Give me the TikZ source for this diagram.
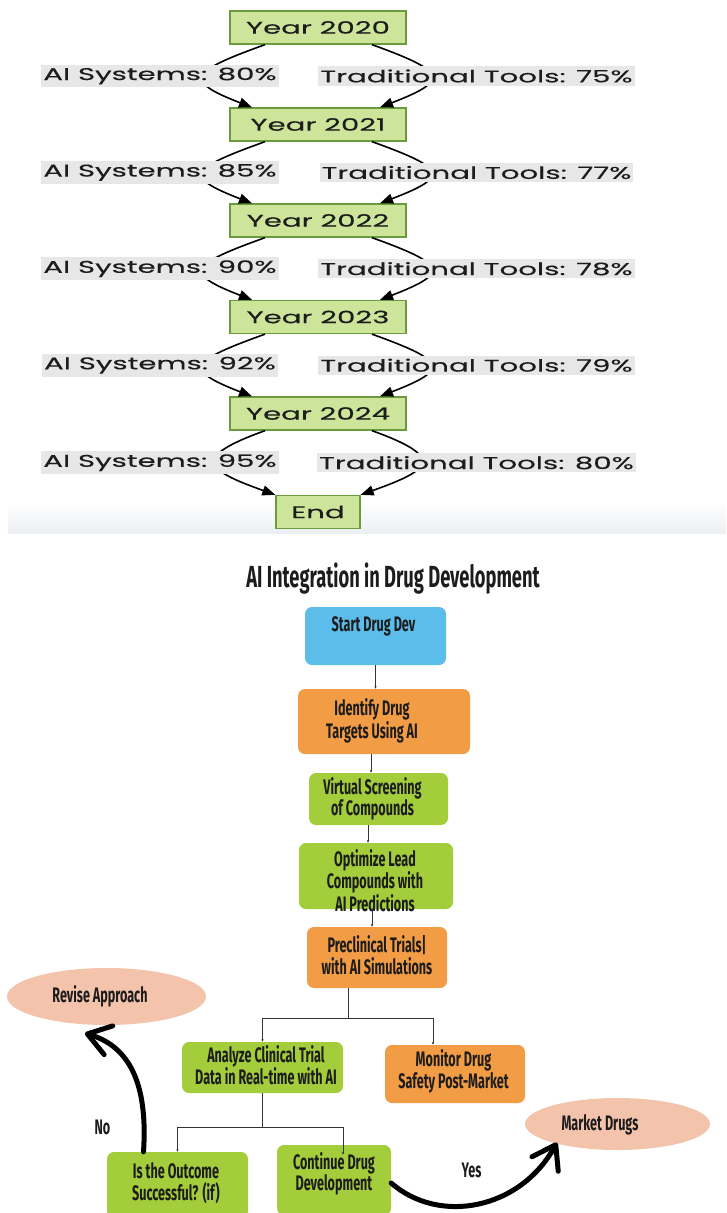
\documentclass[tikz,border=0pt]{standalone}
\usepackage{fontspec}
\setmainfont{Poppins}
\newfontfamily\yearfont{Poppins}[FakeStretch=1.72,FakeBold=0.3]
\newfontfamily\condfont{Fira Sans}[FakeStretch=0.6]
\usetikzlibrary{arrows.meta,shapes.geometric,calc}

\definecolor{yearfill}{HTML}{CDE59B}
\definecolor{yeardraw}{HTML}{6B9B3C}
\definecolor{lblgray}{HTML}{E7E7E7}
\definecolor{bandgray}{HTML}{ECEFF3}
\definecolor{startblue}{HTML}{5CBDEA}
\definecolor{stepgreen}{HTML}{A3CD3B}
\definecolor{steporange}{HTML}{F39C46}
\definecolor{ovalpink}{HTML}{F4C3AB}
\definecolor{inkdark}{HTML}{1C1C1C}

\begin{document}
\begin{tikzpicture}[x=1pt, y=-1pt,
  year/.style={draw=yeardraw, line width=1.3pt, fill=yearfill, minimum width=176pt, minimum height=33pt,
    inner sep=0pt, text=inkdark, font=\yearfont\fontsize{17}{20}\selectfont},
  lbl/.style={fill=lblgray, inner xsep=2pt, inner ysep=3pt, text=inkdark, font=\yearfont\fontsize{17}{20}\selectfont},
  edge/.style={line width=1.6pt, -{Triangle[length=13pt,width=10pt]}},
  stepbox/.style={rounded corners=7pt, inner sep=0pt},
  oval/.style={ellipse, fill=ovalpink, inner sep=0pt},
  txt/.style={align=center, inner sep=0pt, text=inkdark, font=\condfont\bfseries\fontsize{21}{21.5}\selectfont},
  note/.style={inner sep=0pt, text=inkdark, font=\condfont\bfseries\fontsize{21}{21.5}\selectfont},
  link/.style={draw=black!80, line width=0.9pt, -{Latex[length=2.5pt,width=2.5pt]}},
  bigarrow/.style={line width=5pt, line cap=round, -{Straight Barb[length=22pt,width=30pt,round]}}]
  \useasboundingbox (0,0) rectangle (726,1213);

  % yearly comparison
  \node[year] (y20) at (318,27.5) {Year 2020};
  \node[year] (y21) at (318,124.5) {Year 2021};
  \node[year] (y22) at (318,220.5) {Year 2022};
  \node[year] (y23) at (318,317) {Year 2023};
  \node[year] (y24) at (318,413.5) {Year 2024};
  \shade[top color=white, bottom color=bandgray] (8,502) rectangle (726,533);
  \node[year, minimum width=84pt] (end) at (318,512) {End};

  \foreach \a/\b/\ai/\tr [count=\i] in {y20/y21/80/75, y21/y22/85/77, y22/y23/90/78, y23/y24/92/79}{
    \draw[edge] ([xshift=-53pt]\a.south) .. controls +(-75,27) and +(-70,-27) .. ([xshift=-66pt]\b.north);
    \draw[edge] ([xshift=54pt]\a.south) .. controls +(75,27) and +(70,-27) .. ([xshift=62pt]\b.north);
    \coordinate (mid\i) at ($(\a.south)!0.5!(\b.north)$);
    \node[lbl] (ai\i) at ([xshift=-158pt]mid\i) {AI Systems: \ai\%};
    \node[lbl] (tr\i) at ([xshift=158.5pt]mid\i) {Traditional Tools: \tr\%};
  }
  \draw[edge] ([xshift=-53pt]y24.south) .. controls +(-75,27) and +(-70,-25) .. (end.north west);
  \draw[edge] ([xshift=54pt]y24.south) .. controls +(75,27) and +(70,-25) .. (end.north east);
  \coordinate (mid5) at ($(y24.south)!0.5!(end.north)$);
  \node[lbl] (ai5) at ([xshift=-158pt]mid5) {AI Systems: 95\%};
  \node[lbl] (tr5) at ([xshift=158.5pt]mid5) {Traditional Tools: 80\%};

  % drug development flow
  \node[txt, font=\condfont\bfseries\fontsize{30.5}{32}\selectfont] (title) at (393,579) {AI Integration in Drug Development};
  \node[stepbox, fill=startblue, minimum width=141pt, minimum height=58pt,
    label={[txt, xshift=-2pt, yshift=10pt]center:Start Drug Dev}] (start) at (375.5,636) {};
  \node[stepbox, fill=steporange, minimum width=172pt, minimum height=65pt,
    label={[txt, xshift=-12pt, yshift=1pt]center:Identify Drug\\Targets Using AI}] (ident) at (384,721.5) {};
  \node[stepbox, fill=stepgreen, minimum width=139pt, minimum height=52pt,
    label={[txt, xshift=-6pt]center:Virtual Screening\\of Compounds}] (virtual) at (378.5,799) {};
  \node[stepbox, fill=stepgreen, minimum width=154pt, minimum height=66pt,
    label={[txt, xshift=-1pt, yshift=-4.5pt]center:Optimize Lead\\Compounds with\\AI Predictions}] (optimize) at (376,876) {};
  \node[stepbox, fill=steporange, minimum width=140pt, minimum height=61pt,
    label={[txt, yshift=2.5pt]center:Preclinical Trials|\\with AI Simulations}] (pre) at (377,957.5) {};
  \node[stepbox, fill=stepgreen, minimum width=161pt, minimum height=51pt,
    label={[txt, xshift=3.5pt, yshift=2.5pt]center:Analyze Clinical Trial\\Data in Real-time with AI}] (analyze) at (262.5,1067.5) {};
  \node[stepbox, fill=steporange, minimum width=140pt, minimum height=58pt,
    label={[txt, xshift=-1.5pt, yshift=2.5pt]center:Monitor Drug\\Safety Post-Market}] (monitor) at (455,1074) {};
  \node[stepbox, fill=stepgreen, minimum width=141pt, minimum height=66pt,
    label={[txt, xshift=-1.5pt, yshift=2pt]center:Is the Outcome\\Successful? (if)}] (outcome) at (177.5,1185) {};
  \node[stepbox, fill=stepgreen, minimum width=114pt, minimum height=70pt,
    label={[txt, yshift=6pt]center:Continue Drug\\Development}] (develop) at (334,1180) {};
  \node[oval, minimum width=199pt, minimum height=57pt,
    label={[txt, xshift=-6.5pt]center:Revise Approach}] (revise) at (106.5,996.5) {};
  \node[oval, minimum width=185pt, minimum height=52pt,
    label={[txt, xshift=-17.5pt, yshift=-1pt]center:Market Drugs}] (market) at (617.5,1124) {};
  \node[note] (no) at (102.5,1127) {No};
  \node[note] (yes) at (471.5,1170) {Yes};

  \draw[link] (start.south) -- (start.south |- ident.north);
  \draw[link] ([xshift=-13pt]ident.south) -- ([xshift=-7.5pt]virtual.north);
  \draw[link] ([xshift=-10.5pt]virtual.south) -- ([xshift=-8pt]optimize.north);
  \draw[link] ([xshift=-4pt]optimize.south) -- ([xshift=-5pt]pre.north);
  \draw[link] ([xshift=-29pt]pre.south) -- ++(0,30) coordinate (fork1) -| (analyze.north);
  \draw[link] (fork1) -| ([xshift=-22pt]monitor.north);
  \draw[link] (analyze.south) -- ++(0,34) coordinate (fork2) -| (outcome.north);
  \draw[link] (fork2) -| ([xshift=9pt,yshift=-10pt]develop.north);

  \draw[bigarrow] ([xshift=-34pt]outcome.north) .. controls +(5,-75) and +(40,12) .. ([xshift=-21.5pt,yshift=-8pt]revise.south);
  \draw[bigarrow] ([yshift=-3pt]develop.east) .. controls +(48,42) and +(-37,67) .. ([xshift=5pt]market.south west);
\end{tikzpicture}
\end{document}
